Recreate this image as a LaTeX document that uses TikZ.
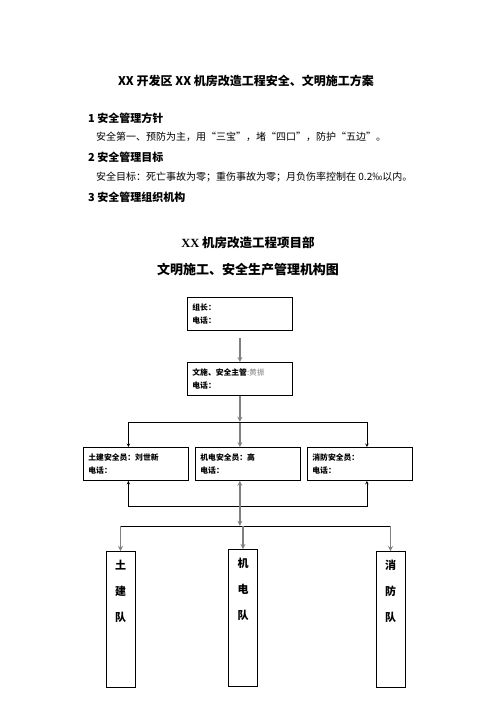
\documentclass[tikz,border=0pt]{standalone}
\usepackage{fontspec}
\setmainfont{Noto Sans CJK SC}
\newfontfamily\titleserif{Liberation Serif}
\usetikzlibrary{arrows}
\tikzstyle{post} = [rectangle,
minimum width=105pt,
minimum height=33pt,
text width=95pt,
inner sep=0pt,
anchor=north west,
align=left,
draw=black,line width=0.8pt,
font=\bfseries\fontsize{7.8}{13.5}\selectfont]
\tikzstyle{team} = [rectangle, minimum width=29pt, minimum height=136pt, inner sep=0pt, anchor=north, draw=black, line width=0.8pt, font=\bfseries\fontsize{11}{26}\selectfont]
\tikzstyle{arrow} = [line width=0.6pt,->,>=stealth]
\tikzstyle{trunk} = [line width=1.2pt,draw=gray,->,>=stealth]
\tikzstyle{heading} = [anchor=west, inner sep=0pt, font=\bfseries\fontsize{11}{13}\selectfont]
\tikzstyle{body} = [anchor=west, inner sep=0pt, font=\fontsize{10}{12}\selectfont]

\begin{document}
\begin{tikzpicture}[x=1pt,y=-1pt]
\useasboundingbox (0,0) rectangle (496,702);

\node (title) [inner sep=0pt, font=\bfseries\fontsize{12}{14}\selectfont] at (246,81) {XX 开发区 XX 机房改造工程安全、文明施工方案};
\node (sec1) [heading] at (88,118) {1 安全管理方针};
\node (txt1) [body] at (96,137) {安全第一、预防为主，用“三宝”，堵“四口”，防护“五边”。};
\node (sec2) [heading] at (88,157) {2 安全管理目标};
\node (txt2) [body] at (96,177) {安全目标：死亡事故为零；重伤事故为零；月负伤率控制在 0.2‰以内。};
\node (sec3) [heading] at (88,197) {3 安全管理组织机构};

\node (dept) [inner sep=0pt, font=\bfseries\fontsize{12.5}{14}\selectfont] at (248,243) {{\titleserif XX} 机房改造工程项目部};
\node (chart) [inner sep=0pt, font=\bfseries\fontsize{13}{15}\selectfont] at (248,270) {文明施工、安全生产管理机构图};

\node (leader) [post] at (187,297) {组长：\\电话：};
\node (chief) [post] at (187,362) {文施、安全主管{\mdseries\color{gray}:黄振}\\电话：};
\node (civil) [post] at (83,447) {土建安全员：刘世新\\电话：};
\node (mech) [post] at (195,447) {机电安全员：高\\电话：};
\node (fire) [post] at (307,447) {消防安全员：\\电话：};

\node (civilteam) [team] at (120.5,551) {\parbox[c][136pt][t]{14pt}{\centering\vspace{9pt}土\\建\\队}};
\node (mechteam) [team] at (243,549) {\parbox[c][137pt][t]{14pt}{\centering\vspace{9pt}机\\电\\队}};
\node (fireteam) [team] at (390.5,551) {\parbox[c][136pt][t]{14pt}{\centering\vspace{9pt}消\\防\\队}};

\coordinate (split1) at ([yshift=-26pt]chief.south);
\coordinate (merge) at ([yshift=-84pt]split1);
\coordinate (split2) at ([yshift=-20pt]merge);

\draw [trunk, shorten <=7pt] (leader.south) -- (chief.north);
\draw [trunk] (chief.south) -- (split1);
\draw [trunk] (split1) -- (split1 |- mech.north);
\draw [arrow] (split1) -| ([xshift=-7.5pt]civil.north);
\draw [arrow] (split1) -| ([xshift=7pt]fire.north);

\draw [arrow] (merge) -| ([xshift=-7.5pt]civil.south);
\draw [arrow] (merge) -| ([xshift=7pt]fire.south);
\draw [trunk] (merge) -- (merge |- mech.south);
\draw [trunk] (merge) -- (split2);

\draw [line width=0.6pt] (civilteam.north |- split2) -- (fireteam.north |- split2);
\draw [trunk] (civilteam.north |- split2) -- (civilteam.north);
\draw [trunk] (mechteam.north |- split2) -- (mechteam.north);
\draw [trunk] (fireteam.north |- split2) -- (fireteam.north);

\end{tikzpicture}
\end{document}
